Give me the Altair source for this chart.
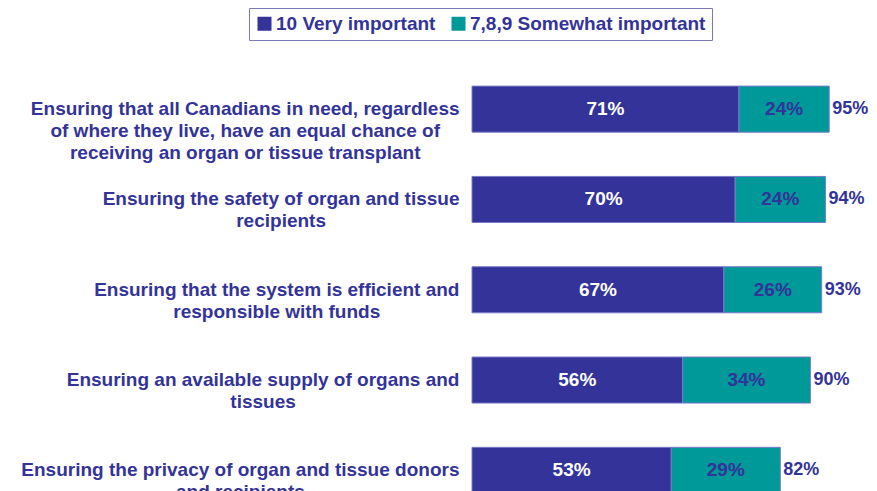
import altair as alt
import pandas as pd

# ---- data ----
category_lines = [
    ["Ensuring that all Canadians in need, regardless",
     "of where they live, have an equal chance of",
     "receiving an organ or tissue transplant"],
    ["Ensuring the safety of organ and tissue", "recipients"],
    ["Ensuring that the system is efficient and", "responsible with funds"],
    ["Ensuring an available supply of organs and", "tissues"],
    ["Ensuring the privacy of organ and tissue donors", "and recipients"],
]
series = ["10 Very important", "7,8,9 Somewhat important"]
very = [71, 70, 67, 56, 53]
somewhat = [24, 24, 26, 34, 29]
total = [95, 94, 93, 90, 82]

NAVY = "#333399"
TEAL = "#009999"
FONT = "Liberation Sans"
LABEL_SIZE = 19

# approximate Arial Bold advance widths (per 1000 em), used to centre each
# multi-line label block so that its right edge sits next to the bars
AW = {' ': 278, ',': 278, 'a': 556, 'b': 611, 'c': 556, 'd': 611, 'e': 556,
      'f': 333, 'g': 611, 'h': 611, 'i': 278, 'j': 278, 'k': 556, 'l': 278,
      'm': 889, 'n': 611, 'o': 611, 'p': 611, 'q': 611, 'r': 389, 's': 556,
      't': 333, 'u': 611, 'v': 556, 'w': 778, 'x': 556, 'y': 556, 'z': 500,
      'C': 722, 'E': 667}


def block_width(lines):
    return max(sum(AW.get(c, 556) for c in l) for l in lines) * LABEL_SIZE / 1000


labels = ["|".join(l) for l in category_lines]
half_widths = [block_width(l) / 2 for l in category_lines]
GAP = 13
label_padding = {
    "condition": [
        {"test": "datum.value == " + repr(lab), "value": round(GAP + hw, 1)}
        for lab, hw in zip(labels[:-1], half_widths[:-1])
    ],
    "value": round(GAP + half_widths[-1], 1),
}

rows = []
for lab, v, s in zip(labels, very, somewhat):
    rows.append({"label": lab, "series": series[0], "value": v, "order": 0})
    rows.append({"label": lab, "series": series[1], "value": s, "order": 1})
df = pd.DataFrame(rows)
df_tot = pd.DataFrame({"label": labels, "total": total})

y_enc = alt.Y(
    "label:N",
    sort=labels,
    scale=alt.Scale(domain=labels, range=[0, 451.5], paddingInner=0.49, paddingOuter=0.245),
    axis=alt.Axis(
        title=None, domain=False, ticks=False, tickSize=0, labelPadding=label_padding,
        labelExpr="split(datum.label, '|')", labelFont=FONT, labelFontSize=LABEL_SIZE,
        labelFontWeight="bold", labelColor=NAVY, labelLimit=600, labelLineHeight=22,
        labelAlign="center", labelBaseline="middle",
    ),
)
x_scale = alt.Scale(domain=[0, 100], nice=False, zero=True)

bars = alt.Chart(df).mark_bar(stroke="#7a7ac8", strokeWidth=1).encode(
    y=y_enc,
    x=alt.X("value:Q", stack="zero", scale=x_scale, axis=None),
    color=alt.Color(
        "series:N",
        scale=alt.Scale(domain=series, range=[NAVY, TEAL]),
        legend=alt.Legend(
            orient="none", legendX=-223, legendY=-56, direction="horizontal",
            title=None, symbolType="square", symbolSize=196, symbolStrokeWidth=0,
            symbolOpacity=1, labelFont=FONT, labelFontSize=19, labelFontWeight="bold",
            labelColor=NAVY, labelLimit=400, strokeColor="#7a7ab8", fillColor="white",
            padding=6, columnPadding=13, labelOffset=2,
        ),
    ),
    order=alt.Order("order:Q"),
)

seg_text = alt.Chart(df).transform_stack(
    stack="value", groupby=["label"], as_=["x0", "x1"],
    sort=[alt.SortField("order", order="ascending")],
).transform_calculate(
    mid="(datum.x0 + datum.x1) / 2", txt="datum.value + '%'"
).mark_text(font=FONT, fontSize=19, fontWeight="bold", baseline="middle").encode(
    y=alt.Y("label:N", sort=labels),
    x=alt.X("mid:Q", scale=x_scale),
    text="txt:N",
    color=alt.condition(f"datum.series == '{series[0]}'", alt.value("white"), alt.value(NAVY)),
)

tot_text = alt.Chart(df_tot).transform_calculate(
    txt="datum.total + '%'"
).mark_text(font=FONT, fontSize=18, fontWeight="bold", align="left", dx=3,
            baseline="middle", color=NAVY).encode(
    y=alt.Y("label:N", sort=labels),
    x=alt.X("total:Q", scale=x_scale),
    text="txt:N",
)

chart = alt.layer(bars, seg_text, tot_text).properties(
    width=376, height=427,
    autosize=alt.AutoSizeParams(type="none"),
    padding={"left": 464, "top": 56, "right": 21, "bottom": 0},
    background="white",
).configure(font=FONT).configure_view(stroke=None)

chart.save("out.html", embed_options={"renderer": "svg", "actions": False})
